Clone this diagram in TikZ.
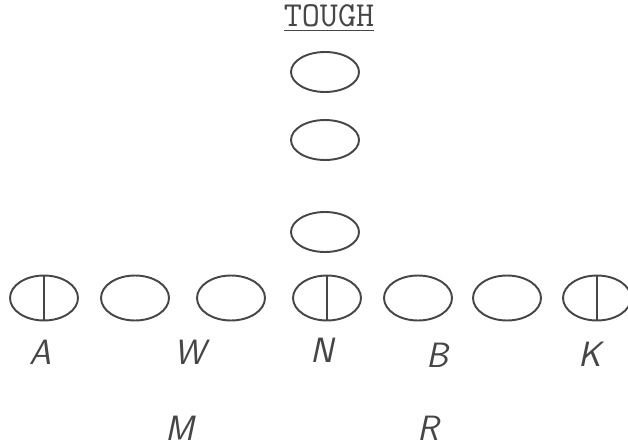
\documentclass[tikz,border=0pt]{standalone}
\usepackage{tikz}
\usetikzlibrary{shapes.geometric}
\definecolor{pencil}{RGB}{70,70,70}

\begin{document}
\begin{tikzpicture} %Tough
      [
      x=0.02cm, y=-0.02cm,
      man/.style={ellipse, draw=pencil, line width=1.1pt, minimum width=1.36cm, minimum height=0.9cm, inner sep=0pt},
      deep/.style={man, minimum height=0.8cm},
      tag/.style={text=pencil, inner sep=0pt, font=\fontsize{20}{24}\selectfont\sffamily\itshape}
      ]
      \useasboundingbox (0,0) rectangle (628,446);
      \node[text=pencil, font=\fontsize{20}{22}\selectfont\ttfamily] (title) at (329,18) {\underline{TOUGH}};
      \node[deep] (t1) at (325,72) {};
      \node[deep] (t2) at (325,140) {};
      \node[deep] (t3) at (325,232) {};
      \node[man] (a) at (44,298) {};
      \node[man] (g1) at (135,298) {};
      \node[man] (g2) at (231,298) {};
      \node[man] (n) at (327,298) {};
      \node[man] (g3) at (418,298) {};
      \node[man] (g4) at (507,298) {};
      \node[man] (k) at (597,298) {};
      \begin{scope}[draw = pencil, line width=1.1pt]
        \draw (a.north) -- (a.south);  \draw (n.north) -- (n.south); \draw (k.north) -- (k.south);
      \end{scope}
      \node[tag] (la) at (40,352) {A};
      \node[tag] (lw) at (190,352) {W};
      \node[tag] (ln) at (322,350) {N};
      \node[tag] (lb) at (437,355) {B};
      \node[tag] (lk) at (590,354) {K};
      \node[tag] (lm) at (180,428) {M};
      \node[tag] (lr) at (428,428) {R};
\end{tikzpicture}
\end{document}
